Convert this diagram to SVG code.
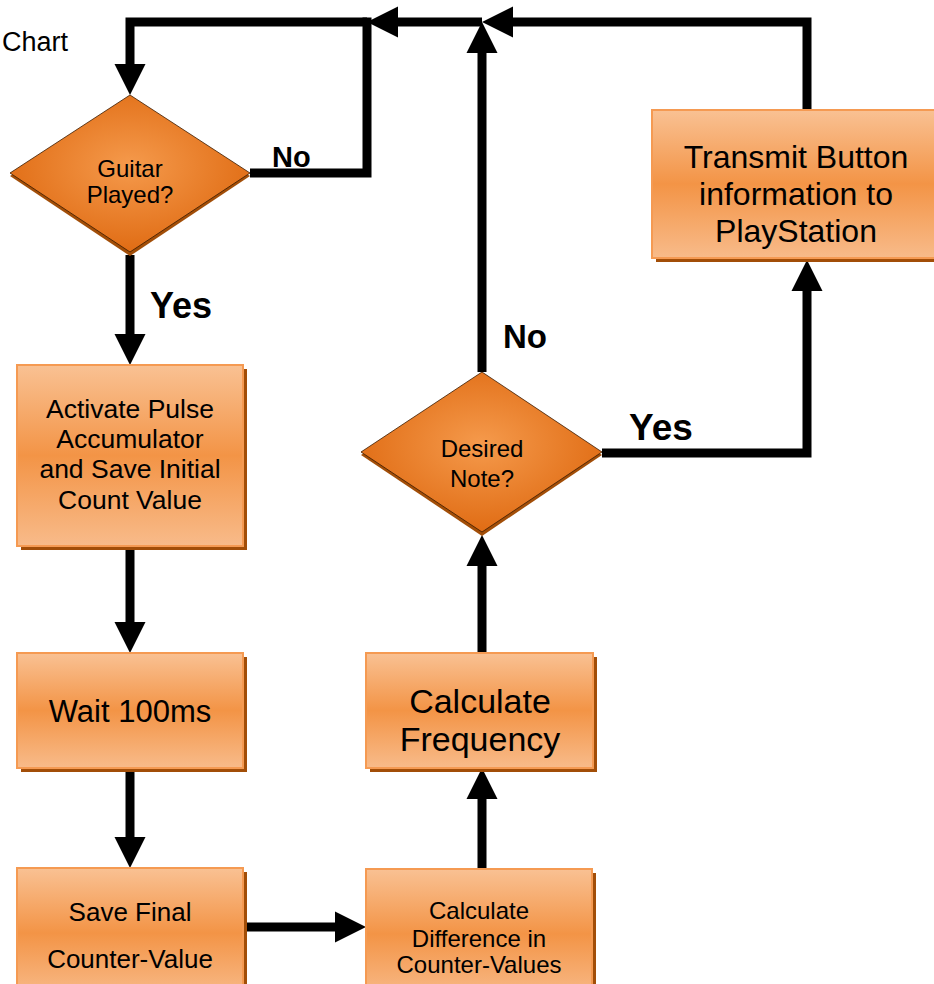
<svg xmlns="http://www.w3.org/2000/svg" width="934" height="984" viewBox="0 0 934 984">
<defs>
<linearGradient id="boxg" x1="0" y1="0" x2="0" y2="1">
<stop offset="0" stop-color="#f9c193"/>
<stop offset="0.5" stop-color="#f39446"/>
<stop offset="1" stop-color="#f8bb8a"/>
</linearGradient>
<radialGradient id="diag" cx="0.5" cy="0.45" r="0.55">
<stop offset="0" stop-color="#f59a4c"/>
<stop offset="1" stop-color="#e06c14"/>
</radialGradient>
<marker id="ah" markerUnits="userSpaceOnUse" markerWidth="31" markerHeight="31" refX="19" refY="15.5" orient="auto" overflow="visible">
<path d="M0,0 L31,15.5 L0,31 Z" fill="#000"/>
</marker>
</defs>
<style>
.box{fill:url(#boxg);stroke:#f59a52;stroke-width:2}
.shadow{fill:#a24e08}
.dia{fill:url(#diag);stroke:#3a1a00;stroke-width:0.8}
.t{font-family:"Liberation Sans",Arial,sans-serif;fill:#000;text-anchor:middle}
.lbl{font-family:"Liberation Sans",Arial,sans-serif;font-weight:bold;fill:#000}
.c{fill:none;stroke:#000;stroke-width:9}
.a{marker-end:url(#ah)}
</style>

<text x="2" y="51" font-family="Liberation Sans, Arial, sans-serif" font-size="27" fill="#000">Chart</text>

<g id="connectors">
<path class="c a" d="M807,110 V22 H494"/>
<path class="c a" d="M482,372 V34"/>
<path class="c a" d="M482,22 H379"/>
<path class="c a" d="M367,22 H130 V83"/>
<path class="c" d="M250,173 H367 V17.5"/>
<path class="c a" d="M130,255 V353"/>
<path class="c a" d="M130,549 V641"/>
<path class="c a" d="M130,772 V856"/>
<path class="c a" d="M243,927 H354"/>
<path class="c a" d="M482,869 V780"/>
<path class="c a" d="M482,653 V547"/>
<path class="c a" d="M602,453 H807 V272"/>
</g>

<g id="guitar">
<polygon class="shadow" points="130,98 250,176 130,256 10,176"/>
<polygon class="dia" points="130,95 250,173 130,252 10,173"/>
<text class="t" x="130" y="177" font-size="24">Guitar</text>
<text class="t" x="130" y="203" font-size="24">Played?</text>
</g>

<g id="activate">
<rect class="shadow" x="21" y="369" width="226" height="181"/>
<rect class="box" x="17" y="365" width="226" height="181"/>
<text class="t" x="130" y="418" font-size="26.5">Activate Pulse</text>
<text class="t" x="130" y="448" font-size="26.5">Accumulator</text>
<text class="t" x="130" y="478" font-size="26.5">and Save Initial</text>
<text class="t" x="130" y="509" font-size="26.5">Count Value</text>
</g>

<g id="wait">
<rect class="shadow" x="21" y="657" width="226" height="115"/>
<rect class="box" x="17" y="653" width="226" height="115"/>
<text class="t" x="130" y="722" font-size="31">Wait 100ms</text>
</g>

<g id="savefinal">
<rect class="shadow" x="21" y="872" width="226" height="130"/>
<rect class="box" x="17" y="868" width="226" height="130"/>
<text class="t" x="130" y="921" font-size="26">Save Final</text>
<text class="t" x="130" y="968" font-size="26">Counter-Value</text>
</g>

<g id="calcdiff">
<rect class="shadow" x="370" y="873" width="226" height="130"/>
<rect class="box" x="366" y="869" width="226" height="130"/>
<text class="t" x="479" y="919" font-size="24">Calculate</text>
<text class="t" x="479" y="947" font-size="24">Difference in</text>
<text class="t" x="479" y="973" font-size="24">Counter-Values</text>
</g>

<g id="calcfreq">
<rect class="shadow" x="370" y="657" width="227" height="115"/>
<rect class="box" x="366" y="653" width="227" height="115"/>
<text class="t" x="480" y="713" font-size="34">Calculate</text>
<text class="t" x="480" y="751" font-size="34">Frequency</text>
</g>

<g id="desired">
<polygon class="shadow" points="482,375 602,455 482,536 361,455"/>
<polygon class="dia" points="482,372 602,452 482,532 361,452"/>
<text class="t" x="482" y="457" font-size="24">Desired</text>
<text class="t" x="482" y="487" font-size="24">Note?</text>
</g>

<g id="transmit">
<rect class="shadow" x="656" y="114" width="290" height="148"/>
<rect class="box" x="652" y="110" width="290" height="148"/>
<text class="t" x="796" y="168" font-size="32">Transmit Button</text>
<text class="t" x="796" y="205" font-size="32">information to</text>
<text class="t" x="796" y="242" font-size="32">PlayStation</text>
</g>

<g id="labels">
<text class="lbl" x="272" y="167" font-size="29">No</text>
<text class="lbl" x="150" y="318" font-size="36">Yes</text>
<text class="lbl" x="503" y="348" font-size="33">No</text>
<text class="lbl" x="629" y="440" font-size="37">Yes</text>
</g>
</svg>
